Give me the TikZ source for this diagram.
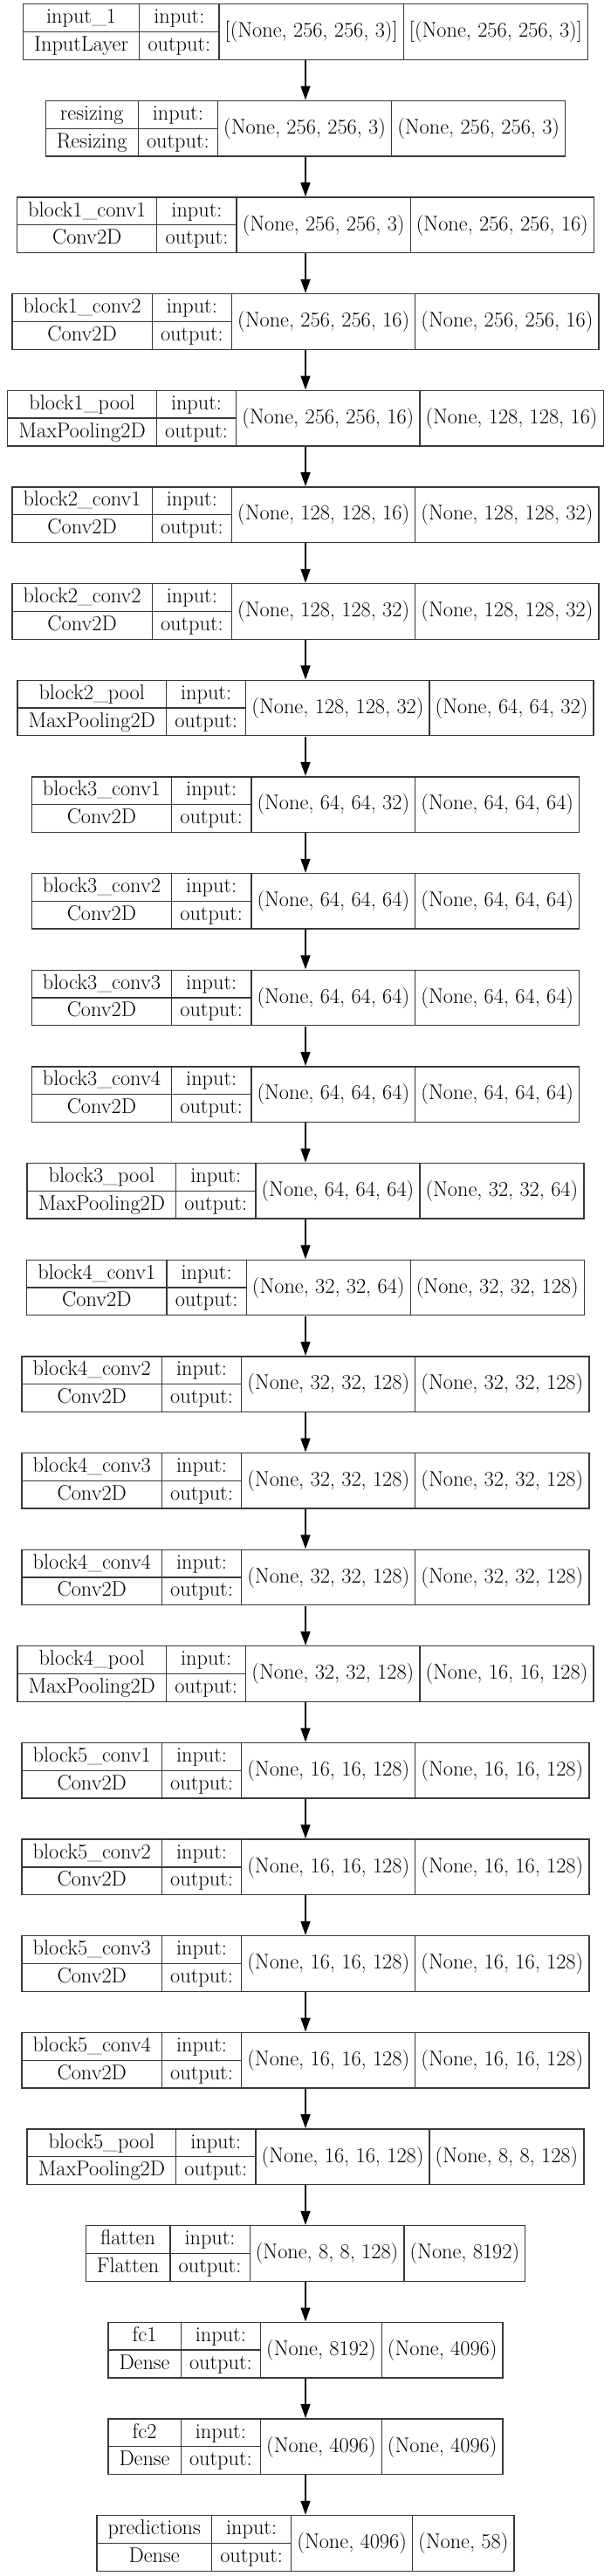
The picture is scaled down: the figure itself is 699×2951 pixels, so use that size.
\documentclass[tikz,border=0pt]{standalone}
\usepackage{array}
\usepackage{colortbl}
\usepackage{tikz}
\usetikzlibrary{arrows.meta}

\setlength{\arrayrulewidth}{1.3pt}
\renewcommand{\arraystretch}{1.05}
\arrayrulecolor{black!78}

% one keras layer: name, class, input shape, output shape
\newcommand{\layerbox}[4]{%
  \begin{tabular}{|@{}c@{}|@{}c@{}|c|c|}
    \hline
    \begin{tabular}{@{\hspace{12pt}}c@{\hspace{12pt}}}#1\\\hline #2\end{tabular} &
    \begin{tabular}{@{}>{\centering\arraybackslash}p{90pt}@{}}input:\\\hline output:\end{tabular} &
    #3 & #4\\
    \hline
  \end{tabular}}

\begin{document}
\begin{tikzpicture}[x=1pt, y=1pt,
    layer/.style={inner sep=0pt, font=\fontsize{24.3}{29}\selectfont},
    flow/.style={-{Triangle[length=16pt, width=11pt]}, line width=1.3pt}]
  \useasboundingbox (0, 0) rectangle (699, -2951);

  \node [layer] (input) at (350, -36.5) {\layerbox{input\_1}{InputLayer}{[(None, 256, 256, 3)]}{[(None, 256, 256, 3)]}};
  \node [layer] (resize) at (350, -147.15) {\layerbox{resizing}{Resizing}{(None, 256, 256, 3)}{(None, 256, 256, 3)}};

  \node [layer] (b1c1) at (350, -257.8) {\layerbox{block1\_conv1}{Conv2D}{(None, 256, 256, 3)}{(None, 256, 256, 16)}};
  \node [layer] (b1c2) at (350, -368.45) {\layerbox{block1\_conv2}{Conv2D}{(None, 256, 256, 16)}{(None, 256, 256, 16)}};
  \node [layer] (b1p) at (350, -479.1) {\layerbox{block1\_pool}{MaxPooling2D}{(None, 256, 256, 16)}{(None, 128, 128, 16)}};

  \node [layer] (b2c1) at (350, -589.75) {\layerbox{block2\_conv1}{Conv2D}{(None, 128, 128, 16)}{(None, 128, 128, 32)}};
  \node [layer] (b2c2) at (350, -700.4) {\layerbox{block2\_conv2}{Conv2D}{(None, 128, 128, 32)}{(None, 128, 128, 32)}};
  \node [layer] (b2p) at (350, -811.05) {\layerbox{block2\_pool}{MaxPooling2D}{(None, 128, 128, 32)}{(None, 64, 64, 32)}};

  \node [layer] (b3c1) at (350, -921.7) {\layerbox{block3\_conv1}{Conv2D}{(None, 64, 64, 32)}{(None, 64, 64, 64)}};
  \node [layer] (b3c2) at (350, -1032.35) {\layerbox{block3\_conv2}{Conv2D}{(None, 64, 64, 64)}{(None, 64, 64, 64)}};
  \node [layer] (b3c3) at (350, -1143.0) {\layerbox{block3\_conv3}{Conv2D}{(None, 64, 64, 64)}{(None, 64, 64, 64)}};
  \node [layer] (b3c4) at (350, -1253.65) {\layerbox{block3\_conv4}{Conv2D}{(None, 64, 64, 64)}{(None, 64, 64, 64)}};
  \node [layer] (b3p) at (350, -1364.3) {\layerbox{block3\_pool}{MaxPooling2D}{(None, 64, 64, 64)}{(None, 32, 32, 64)}};

  \node [layer] (b4c1) at (350, -1474.95) {\layerbox{block4\_conv1}{Conv2D}{(None, 32, 32, 64)}{(None, 32, 32, 128)}};
  \node [layer] (b4c2) at (350, -1585.6) {\layerbox{block4\_conv2}{Conv2D}{(None, 32, 32, 128)}{(None, 32, 32, 128)}};
  \node [layer] (b4c3) at (350, -1696.25) {\layerbox{block4\_conv3}{Conv2D}{(None, 32, 32, 128)}{(None, 32, 32, 128)}};
  \node [layer] (b4c4) at (350, -1806.9) {\layerbox{block4\_conv4}{Conv2D}{(None, 32, 32, 128)}{(None, 32, 32, 128)}};
  \node [layer] (b4p) at (350, -1917.55) {\layerbox{block4\_pool}{MaxPooling2D}{(None, 32, 32, 128)}{(None, 16, 16, 128)}};

  \node [layer] (b5c1) at (350, -2028.2) {\layerbox{block5\_conv1}{Conv2D}{(None, 16, 16, 128)}{(None, 16, 16, 128)}};
  \node [layer] (b5c2) at (350, -2138.85) {\layerbox{block5\_conv2}{Conv2D}{(None, 16, 16, 128)}{(None, 16, 16, 128)}};
  \node [layer] (b5c3) at (350, -2249.5) {\layerbox{block5\_conv3}{Conv2D}{(None, 16, 16, 128)}{(None, 16, 16, 128)}};
  \node [layer] (b5c4) at (350, -2360.15) {\layerbox{block5\_conv4}{Conv2D}{(None, 16, 16, 128)}{(None, 16, 16, 128)}};
  \node [layer] (b5p) at (350, -2470.8) {\layerbox{block5\_pool}{MaxPooling2D}{(None, 16, 16, 128)}{(None, 8, 8, 128)}};

  \node [layer] (flat) at (350, -2581.45) {\layerbox{flatten}{Flatten}{(None, 8, 8, 128)}{(None, 8192)}};
  \node [layer] (fc1) at (350, -2692.1) {\layerbox{fc1}{Dense}{(None, 8192)}{(None, 4096)}};
  \node [layer] (fc2) at (350, -2802.75) {\layerbox{fc2}{Dense}{(None, 4096)}{(None, 4096)}};
  \node [layer] (pred) at (350, -2913.4) {\layerbox{predictions}{Dense}{(None, 4096)}{(None, 58)}};

  \draw [flow] (input) -- (resize);
  \draw [flow] (resize) -- (b1c1);
  \draw [flow] (b1c1) -- (b1c2);
  \draw [flow] (b1c2) -- (b1p);
  \draw [flow] (b1p) -- (b2c1);
  \draw [flow] (b2c1) -- (b2c2);
  \draw [flow] (b2c2) -- (b2p);
  \draw [flow] (b2p) -- (b3c1);
  \draw [flow] (b3c1) -- (b3c2);
  \draw [flow] (b3c2) -- (b3c3);
  \draw [flow] (b3c3) -- (b3c4);
  \draw [flow] (b3c4) -- (b3p);
  \draw [flow] (b3p) -- (b4c1);
  \draw [flow] (b4c1) -- (b4c2);
  \draw [flow] (b4c2) -- (b4c3);
  \draw [flow] (b4c3) -- (b4c4);
  \draw [flow] (b4c4) -- (b4p);
  \draw [flow] (b4p) -- (b5c1);
  \draw [flow] (b5c1) -- (b5c2);
  \draw [flow] (b5c2) -- (b5c3);
  \draw [flow] (b5c3) -- (b5c4);
  \draw [flow] (b5c4) -- (b5p);
  \draw [flow] (b5p) -- (flat);
  \draw [flow] (flat) -- (fc1);
  \draw [flow] (fc1) -- (fc2);
  \draw [flow] (fc2) -- (pred);
\end{tikzpicture}
\end{document}
